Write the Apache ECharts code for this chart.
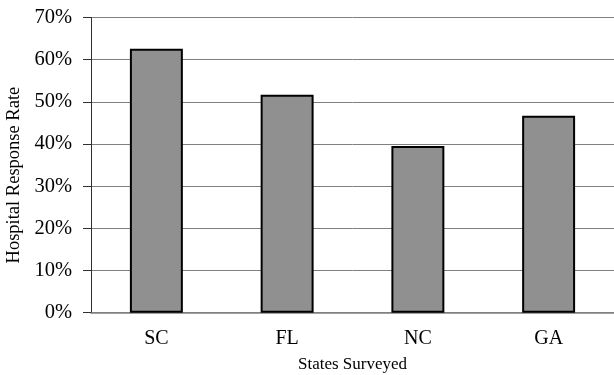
<!DOCTYPE html>
<html>
<head>
<meta charset="utf-8">
<script src="https://cdn.jsdelivr.net/npm/echarts@6/dist/echarts.min.js"></script>
<style>
html,body{margin:0;padding:0;background:#fff;}
#chart{width:614px;height:375px;}
</style>
</head>
<body>
<div id="chart"></div>
<script>
var categories = ['SC', 'FL', 'NC', 'GA'];
var responseRates = [0.626, 0.517, 0.395, 0.467];
var yTicks = { min: 0, max: 0.7, interval: 0.1 };

var FONT = '"Liberation Serif", "Times New Roman", serif';
var chart = echarts.init(document.getElementById('chart'));
chart.setOption({
  animation: false,
  backgroundColor: '#ffffff',
  grid: { left: 91, right: 0, top: 17.5, bottom: 62.3, containLabel: false, outerBoundsMode: 'none' },
  xAxis: {
    type: 'category',
    data: categories,
    name: 'States Surveyed',
    nameLocation: 'middle',
    nameGap: 43,
    nameTextStyle: { fontFamily: FONT, fontSize: 17, color: '#000' },
    axisLine: { show: true, lineStyle: { color: '#808080', width: 1.5 } },
    axisTick: { show: false },
    axisLabel: { fontFamily: FONT, fontSize: 20, color: '#000', margin: 16 },
    splitLine: { show: false }
  },
  yAxis: {
    type: 'value',
    min: yTicks.min,
    max: yTicks.max,
    interval: yTicks.interval,
    name: 'Hospital Response Rate',
    nameLocation: 'middle',
    nameGap: 67,
    nameRotate: 90,
    nameTextStyle: { fontFamily: FONT, fontSize: 18.5, color: '#000', padding: [0, 20, 0, 0] },
    axisLine: { show: true, lineStyle: { color: '#303030', width: 1 } },
    axisTick: { show: true, inside: false, length: 8, lineStyle: { color: '#303030', width: 1 } },
    axisLabel: {
      fontFamily: FONT, fontSize: 20.5, color: '#000', margin: 19,
      formatter: function (v) { return Math.round(v * 100) + '%'; }
    },
    splitLine: { show: true, lineStyle: { color: '#808080', width: 1 } }
  },
  series: [{
    type: 'bar',
    data: responseRates,
    barWidth: '40.5%',
    itemStyle: { color: '#909090', borderColor: '#000', borderWidth: 2 }
  }]
});
</script>
</body>
</html>
